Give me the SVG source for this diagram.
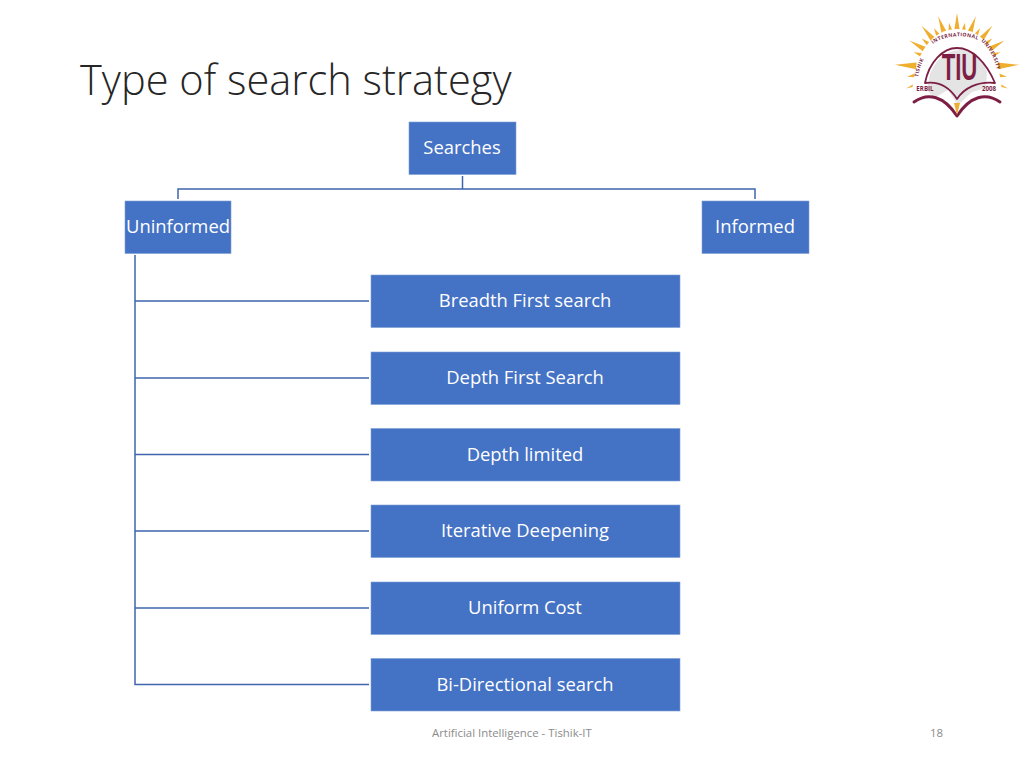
<svg xmlns="http://www.w3.org/2000/svg" width="1024" height="768" viewBox="0 0 1024 768">
<style>
text{font-family:"Open Sans","Noto Sans","Liberation Sans",sans-serif}
.b{fill:#4472c4;stroke:#7f9fd8;stroke-width:.6}
.l{fill:#fff;font-size:18.4px;text-anchor:middle}
.c{fill:none;stroke:#3f66ad;stroke-width:1.5}
.f{fill:#8b8b8b;font-size:11.4px}
.m{fill:none;stroke:#7d1f45;stroke-linecap:round;stroke-linejoin:round}
.lg{fill:#7d1f45;text-anchor:middle;font-weight:700}
.at{fill:#7d1f45;font-size:5.100px;font-weight:700;letter-spacing:.4px}
.r{fill:#f0ae2e}
</style>
<defs>
<path id="rl" d="M-3-36L0-55L3-36Z"/>
<path id="rs" d="M-2.500-36L0-46L2.500-36Z"/>
</defs>
<rect width="1024" height="768" fill="#fff"/>
<text x="80" y="95" font-size="41.600" fill="#262626" font-weight="300">Type of search strategy</text>
<g id="logo">
<g class="r" transform="translate(957 68)">
<use href="#rl"/>
<use href="#rs" transform="rotate(10)"/>
<use href="#rl" transform="rotate(20)"/>
<use href="#rs" transform="rotate(30)"/>
<use href="#rl" transform="rotate(40)"/>
<use href="#rs" transform="rotate(50)"/>
<use href="#rl" transform="rotate(60)"/>
<use href="#rs" transform="rotate(70)"/>
<use href="#rl" transform="rotate(87) scale(1.130)"/>
<use href="#rs" transform="rotate(100) scale(1.100)"/>
<use href="#rl" transform="rotate(112)"/>
<use href="#rs" transform="rotate(-10)"/>
<use href="#rl" transform="rotate(-20)"/>
<use href="#rs" transform="rotate(-30)"/>
<use href="#rl" transform="rotate(-40)"/>
<use href="#rs" transform="rotate(-50)"/>
<use href="#rl" transform="rotate(-60)"/>
<use href="#rs" transform="rotate(-70)"/>
<use href="#rl" transform="rotate(-87) scale(1.130)"/>
<use href="#rs" transform="rotate(-100) scale(1.100)"/>
<use href="#rl" transform="rotate(-112)"/>
</g>
<path d="M912 95C914 50 934 29 957 29C982 29 1000 50 1002 95L985 112H930Z" fill="#fff"/>
<path d="M930 74C936 58 948 50 960 50C972 50 982 58 987 72L986 88L972 92L958 105L948 90L934 98L927 90Z" fill="#e4e4e4"/>
<path id="a1" d="M918 77C920 65 925 55 934 47" fill="none"/>
<path id="a2" d="M933 44C943 35 971 33 983 43" fill="none"/>
<path id="a3" d="M981 41C990 49 996 60 998 77" fill="none"/>
<text class="at"><textPath href="#a1">TISHIK</textPath></text>
<text class="at"><textPath href="#a2">INTERNATIONAL</textPath></text>
<text class="at"><textPath href="#a3">UNIVERSITY</textPath></text>
<path class="m" stroke-width="1.800" d="M925 83C929 62 943 48 957 48C972 48 986 62 995 83C978 81 964 88 957 99C950 88 939 81 925 83Z"/>
<text class="lg" font-size="37" style="font-family:'Liberation Sans',sans-serif" transform="translate(959.500 80) scale(.6 1)">TIU</text>
<text class="lg" x="925" y="91" font-size="6.200">ERBIL</text>
<text class="lg" x="989" y="91" font-size="6.200">2008</text>
<path class="m" stroke-width="3" d="M914 102C928 92 944 96 957 116C970 96 986 92 1000 102"/>
<path d="M954 103L960 103L957 115Z" fill="#f0ae2e"/>
</g>
<g id="connectors">
<path class="c" d="M462.500 176V189M178 199V189H755V199"/>
<path class="c" d="M135 255V684.500H369M135 301H369M135 378H369M135 454.500H369M135 531H369M135 608H369"/>
</g>
<g id="searches"><rect class="b" x="409" y="122" width="107" height="52.500"/><text class="l" x="462" y="154">Searches</text></g>
<g id="uninformed"><rect class="b" x="125" y="201" width="106" height="52.500"/><text class="l" x="178" y="233">Uninformed</text></g>
<g id="informed"><rect class="b" x="702" y="201" width="107" height="52.500"/><text class="l" x="755" y="233">Informed</text></g>
<g id="bfs"><rect class="b" x="371" y="275" width="309" height="52.500"/><text class="l" x="525" y="307">Breadth First search</text></g>
<g id="dfs"><rect class="b" x="371" y="352" width="309" height="52.500"/><text class="l" x="525" y="384">Depth First Search</text></g>
<g id="dl"><rect class="b" x="371" y="428.500" width="309" height="52.500"/><text class="l" x="525" y="460.500">Depth limited</text></g>
<g id="id"><rect class="b" x="371" y="505" width="309" height="52.500"/><text class="l" x="525" y="537">Iterative Deepening</text></g>
<g id="uc"><rect class="b" x="371" y="582" width="309" height="52.500"/><text class="l" x="525" y="614">Uniform Cost</text></g>
<g id="bd"><rect class="b" x="371" y="658.500" width="309" height="52.500"/><text class="l" x="525" y="690.500">Bi-Directional search</text></g>
<text class="f" x="432" y="736.500">Artificial Intelligence - Tishik-IT</text>
<text class="f" x="930" y="736.500">18</text>
</svg>
